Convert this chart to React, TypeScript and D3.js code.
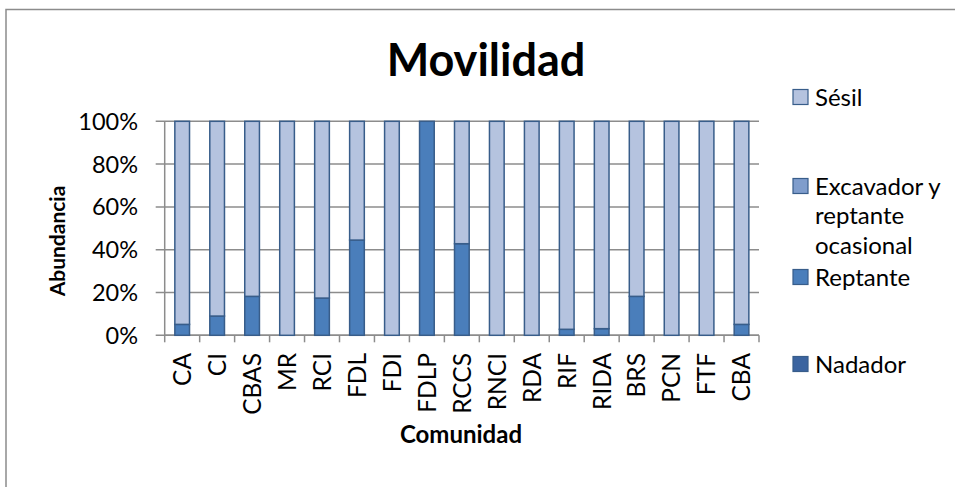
import React, { useEffect, useRef } from "react";
import * as d3 from "d3";

// Comunidades (eje X)
const categories = [
  "CA", "CI", "CBAS", "MR", "RCI", "FDL", "FDI", "FDLP", "RCCS",
  "RNCI", "RDA", "RIF", "RIDA", "BRS", "PCN", "FTF", "CBA",
];

// Abundancia relativa (%) por tipo de movilidad
const nadador = [0, 0, 0, 0, 0, 0, 0, 0, 0, 0, 0, 0, 0, 0, 0, 0, 0];
const reptante = [5.1, 9, 18.2, 0, 17.4, 44.5, 0, 100, 42.8, 0, 0, 2.8, 3.1, 18.2, 0, 0, 5.1];
const excavador = [0, 0, 0, 0, 0, 0, 0, 0, 0, 0, 0, 0, 0, 0, 0, 0, 0];
const sesil = [94.9, 91, 81.8, 100, 82.6, 55.5, 100, 0, 57.2, 100, 100, 97.2, 96.9, 81.8, 100, 100, 94.9];

const seriesNames = ["Nadador", "Reptante", "Excavador y reptante ocasional", "Sésil"];
const seriesValues = [nadador, reptante, excavador, sesil];
const seriesColors = ["#3b64a0", "#4a7ebb", "#7f9dcc", "#b5c3df"];
const yTicks = [0, 0.2, 0.4, 0.6, 0.8, 1];

const W = 955;
const H = 487;
const FONT = "Lato, 'Open Sans', sans-serif";

export default function App() {
  const svgRef = useRef<SVGSVGElement>(null);

  useEffect(() => {
    document.body.style.margin = "0";
    const svg = d3.select(svgRef.current);
    svg.selectAll("*").remove();

    const plot = { left: 164.7, right: 759, top: 121.3, bottom: 335.3 };

    const rows = categories.map((c, i) => {
      const r: any = { cat: c };
      seriesNames.forEach((s, k) => (r[s] = seriesValues[k][i]));
      return r;
    });
    const stacked = d3.stack().keys(seriesNames).offset(d3.stackOffsetExpand)(rows);

    const x = d3
      .scaleBand()
      .domain(categories)
      .range([plot.left, plot.right])
      .paddingInner(0.58)
      .paddingOuter(0.29);
    const y = d3.scaleLinear().domain([0, 1]).range([plot.bottom, plot.top]);

    // chart border (top + left visible)
    svg
      .append("rect")
      .attr("x", 6)
      .attr("y", 9.5)
      .attr("width", W + 20)
      .attr("height", H + 20)
      .attr("fill", "#fff")
      .attr("stroke", "#8c8c8c")
      .attr("stroke-width", 1.5);

    // gridlines + y ticks
    svg
      .append("g")
      .selectAll("line")
      .data(yTicks)
      .join("line")
      .attr("x1", plot.left - 9)
      .attr("x2", plot.right)
      .attr("y1", (d) => y(d))
      .attr("y2", (d) => y(d))
      .attr("stroke", "#8c8c8c")
      .attr("stroke-width", 1.5);

    svg
      .append("g")
      .selectAll("text")
      .data(yTicks)
      .join("text")
      .attr("x", 138)
      .attr("y", (d) => y(d))
      .attr("dy", "0.36em")
      .attr("text-anchor", "end")
      .attr("font-family", FONT)
      .attr("font-size", 23.5)
      .text((d) => d3.format(".0%")(d));

    // y axis line
    svg
      .append("line")
      .attr("x1", plot.left)
      .attr("x2", plot.left)
      .attr("y1", plot.top)
      .attr("y2", plot.bottom)
      .attr("stroke", "#8c8c8c")
      .attr("stroke-width", 1.5);

    // x axis line + ticks at category boundaries
    svg
      .append("line")
      .attr("x1", plot.left)
      .attr("x2", plot.right)
      .attr("y1", plot.bottom)
      .attr("y2", plot.bottom)
      .attr("stroke", "#8c8c8c")
      .attr("stroke-width", 1.5);
    const step = x.step();
    svg
      .append("g")
      .selectAll("line")
      .data(d3.range(categories.length + 1))
      .join("line")
      .attr("x1", (i) => plot.left + i * step)
      .attr("x2", (i) => plot.left + i * step)
      .attr("y1", plot.bottom)
      .attr("y2", plot.bottom + 7)
      .attr("stroke", "#8c8c8c")
      .attr("stroke-width", 1.5);

    // bars
    svg
      .append("g")
      .selectAll("g")
      .data(stacked)
      .join("g")
      .attr("fill", (_, k) => seriesColors[k])
      .selectAll("rect")
      .data((d) => d.filter((p) => p[1] - p[0] > 0))
      .join("rect")
      .attr("x", (d: any) => x(d.data.cat)!)
      .attr("width", x.bandwidth())
      .attr("y", (d) => y(d[1]))
      .attr("height", (d) => y(d[0]) - y(d[1]))
      .attr("stroke", "#385d8a")
      .attr("stroke-width", 1.5);

    // x tick labels
    svg
      .append("g")
      .selectAll("text")
      .data(categories)
      .join("text")
      .attr(
        "transform",
        (d) => `translate(${x(d)! + x.bandwidth() / 2},353) rotate(-90)`
      )
      .attr("dy", "0.36em")
      .attr("text-anchor", "end")
      .attr("font-family", FONT)
      .attr("font-size", 24.5)
      .text((d) => d);

    // titles
    svg
      .append("text")
      .attr("x", 486)
      .attr("y", 76)
      .attr("text-anchor", "middle")
      .attr("font-family", FONT)
      .attr("font-weight", "bold")
      .attr("font-size", 45)
      .text("Movilidad");

    svg
      .append("text")
      .attr("x", 461)
      .attr("y", 443)
      .attr("text-anchor", "middle")
      .attr("font-family", FONT)
      .attr("font-weight", "bold")
      .attr("font-size", 24)
      .text("Comunidad");

    svg
      .append("text")
      .attr("transform", "translate(65,241) rotate(-90)")
      .attr("text-anchor", "middle")
      .attr("font-family", FONT)
      .attr("font-weight", "bold")
      .attr("font-size", 21)
      .text("Abundancia");

    // legend (reverse order: top of stack first)
    const legendItems = [
      { k: 3, y: 97, lines: ["Sésil"] },
      { k: 2, y: 186, lines: ["Excavador y", "reptante", "ocasional"] },
      { k: 1, y: 277, lines: ["Reptante"] },
      { k: 0, y: 364, lines: ["Nadador"] },
    ];
    const lg = svg.append("g");
    legendItems.forEach((it) => {
      lg.append("rect")
        .attr("x", 793)
        .attr("y", it.y - 7.5)
        .attr("width", 15)
        .attr("height", 15)
        .attr("fill", seriesColors[it.k])
        .attr("stroke", "#385d8a")
        .attr("stroke-width", 1.2);
      it.lines.forEach((t, j) => {
        lg.append("text")
          .attr("x", 815)
          .attr("y", it.y + j * 29.5)
          .attr("dy", "0.36em")
          .attr("font-family", FONT)
          .attr("font-size", 24)
          .text(t);
      });
    });
  }, []);

  return <svg ref={svgRef} width={W} height={H} style={{ display: "block" }} />;
}
